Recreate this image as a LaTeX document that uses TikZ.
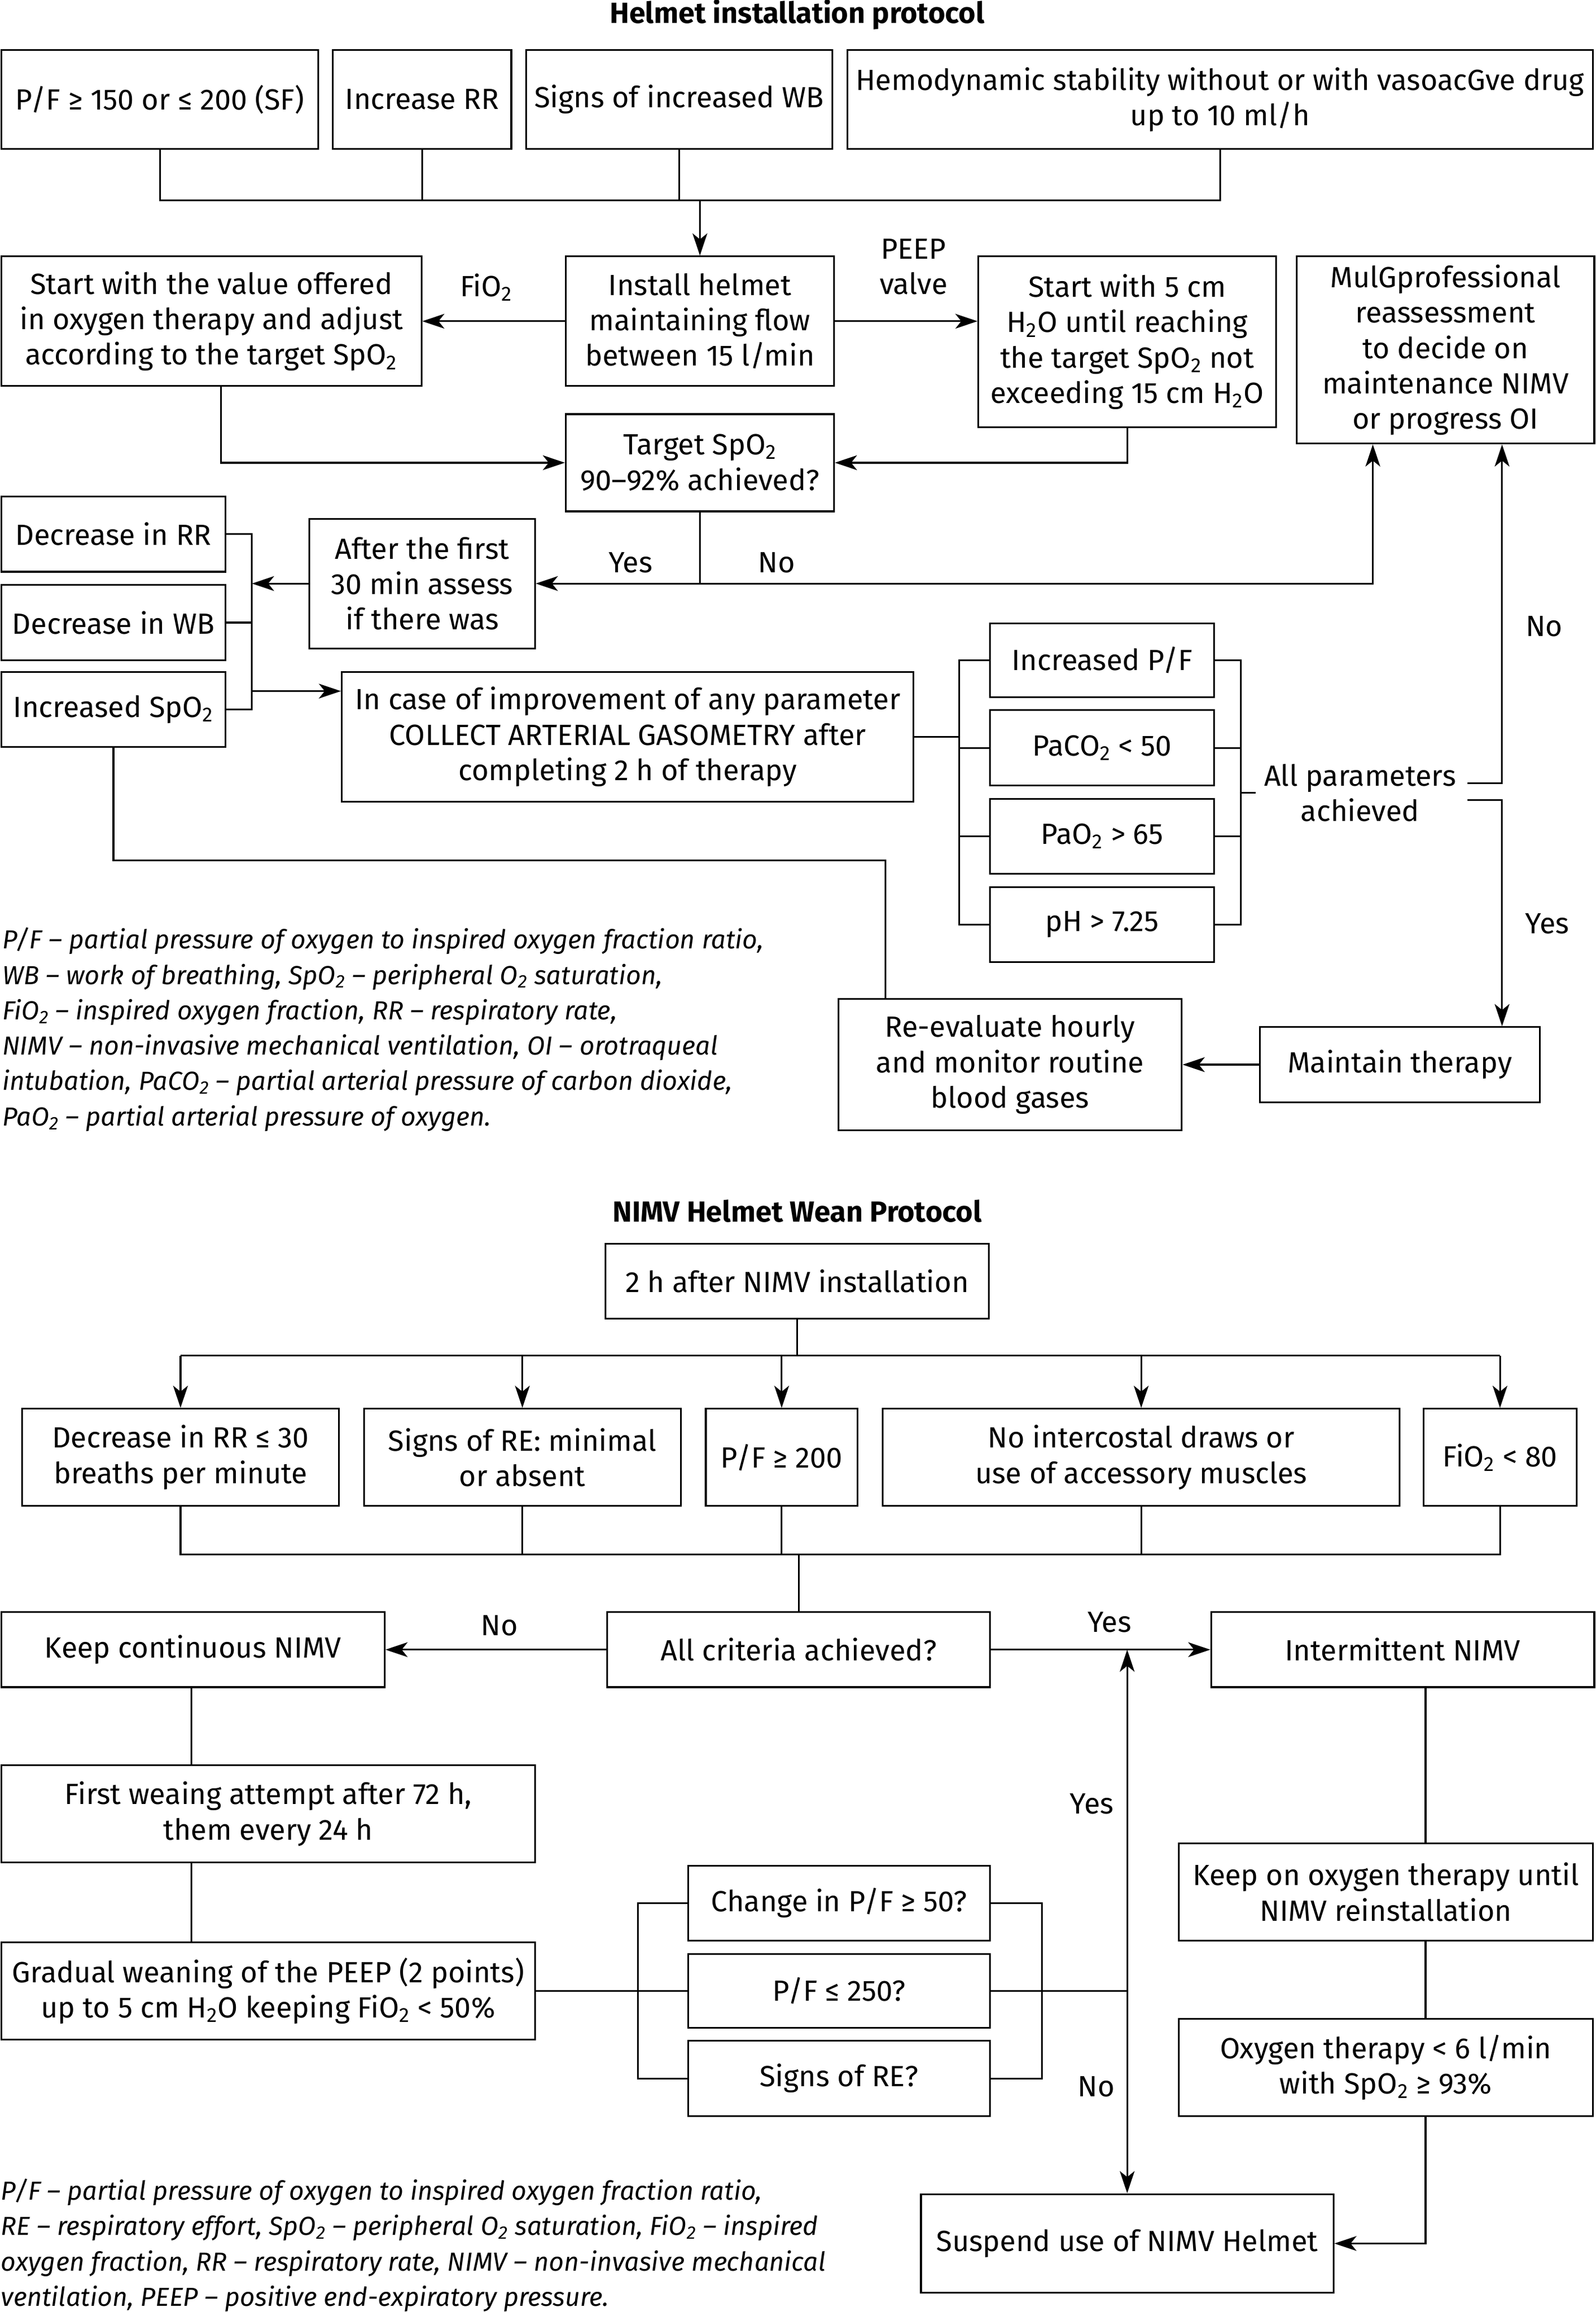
\documentclass[tikz,border=0pt]{standalone}
\usepackage{fontspec}
\setmainfont{Fira Sans}
\usetikzlibrary{arrows.meta,calc}
\tikzset{
 box/.style={draw, line width=1.2pt, align=center, inner sep=0pt, font=\fontsize{19.8}{24}\selectfont},
 lbl/.style={align=center, inner sep=0pt, font=\fontsize{19.8}{24}\selectfont},
 ttl/.style={inner sep=0pt, font=\fontsize{19.8}{24}\selectfont\bfseries},
 legend/.style={align=left, inner sep=0pt, font=\fontsize{17.7}{24}\selectfont\itshape},
 arr/.style={-{Stealth[length=15pt,width=10pt,inset=4pt]}},
}
\newcommand\bx[6]{\node[box,minimum width={(#4-#2)*1pt},minimum height={(#5-#3)*1pt}] (#1) at ({(#2+#4)/2},{(#3+#5)/2}) {#6};}
\newcommand\lo[1]{\textsubscript{#1}}
\begin{document}
\begin{tikzpicture}[x=1pt,y=-1pt,line width=1.2pt]
\useasboundingbox (0,0) rectangle (1083,1569);
% ---------- Part 1 ----------
\node[ttl] (t1) at (541,10) {Helmet installation protocol};
\bx{b1}{1}{34}{216}{101}{P/F ≥ 150 or ≤ 200 (SF)}
\bx{b2}{226}{34}{347}{101}{Increase RR}
\bx{b3}{357}{34}{565}{101}{Signs of increased WB}
\bx{b4}{575}{34}{1081}{101}{Hemodynamic stability without or with vasoacGve drug\\up to 10 ml/h}
\bx{install}{384}{174}{566}{262}{Install helmet\\maintaining flow\\between 15 l/min}
\bx{startval}{1}{174}{286}{262}{Start with the value offered\\in oxygen therapy and adjust\\according to the target SpO\lo{2}}
\bx{start5}{664}{174}{866}{290}{Start with 5 cm\\H\lo{2}O until reaching\\the target SpO\lo{2} not\\exceeding 15 cm H\lo{2}O}
\bx{multi}{880}{174}{1082}{301}{MulGprofessional\\reassessment\\to decide on\\maintenance NIMV\\or progress OI}
\bx{target}{384}{281}{566}{347}{Target SpO\lo{2}\\90–92\% achieved?}
\bx{after}{210}{352}{363}{440}{After the first\\30 min assess\\if there was}
\bx{dRR}{1}{337}{153}{388}{Decrease in RR}
\bx{dWB}{1}{397}{153}{448}{Decrease in WB}
\bx{iSpO}{1}{456}{153}{507}{Increased SpO\lo{2}}
\bx{collect}{232}{456}{620}{544}{In case of improvement of any parameter\\COLLECT ARTERIAL GASOMETRY after\\completing 2 h of therapy}
\bx{p1}{672}{423}{824}{473}{Increased P/F}
\bx{p2}{672}{482}{824}{533}{PaCO\lo{2} < 50}
\bx{p3}{672}{542}{824}{593}{PaO\lo{2} > 65}
\bx{p4}{672}{602}{824}{653}{pH > 7.25}
\bx{maintain}{855}{697}{1045}{748}{Maintain therapy}
\bx{reeval}{569}{678}{802}{767}{Re-evaluate hourly\\and monitor routine\\blood gases}
\node[lbl] (lfio) at (330,195) {FiO\lo{2}};
\node[lbl] (lpeep) at (620,181) {PEEP\\valve};
\node[lbl] (lyes1) at (428,382) {Yes};
\node[lbl] (lno1) at (527,382) {No};
\node[lbl] (lno2) at (1048,425) {No};
\node[lbl] (lyes2) at (1050,627) {Yes};
\node[lbl] (allp) at (923,538) {All parameters\\achieved};
\coordinate (bus) at (0,136);
\coordinate (lb) at (171,0);
\coordinate (yA) at (0,469);
\coordinate (xS) at (150,0);
\coordinate (xM) at (931.7,0);
\coordinate (lb2) at (651,0);
\coordinate (rb2) at (842,0);
\coordinate (ap1) at (996,531.5);
\coordinate (ap2) at (996,543);
\coordinate (xN) at (1019.4,0);
\coordinate (yB) at (0,584);
\coordinate (xR) at (601,0);
\draw (b1.south) -- (b1.south |- bus) -- (b4.south |- bus) -- (b4.south);
\draw (b2.south) -- (b2.south |- bus);
\draw (b3.south) -- (b3.south |- bus);
\draw[arr] (install.north |- bus) -- (install.north);
\draw[arr] (install.west) -- (startval.east);
\draw[arr] (install.east) -- (install.east -| start5.west);
\draw[arr] (startval.south -| xS) |- (target.west);
\draw[arr] (start5.south) |- (target.east);
\draw[arr] (target.south) |- (after.east);
\draw[arr] (target.south |- after.east) -| (multi.south -| xM);
\draw (dRR.east) -- (dRR.east -| lb) -- (iSpO.east -| lb) -- (iSpO.east);
\draw (dWB.east) -- (dWB.east -| lb);
\draw[arr] (after.west) -- (after.west -| lb);
\draw[arr] (lb |- yA) -- (collect.west |- yA);
\draw (collect.east) -- (collect.east -| lb2);
\draw (p1.west) -- (p1.west -| lb2) -- (p4.west -| lb2) -- (p4.west);
\draw (p2.west) -- (p2.west -| lb2);
\draw (p3.west) -- (p3.west -| lb2);
\draw (p1.east) -- (p1.east -| rb2) -- (p4.east -| rb2) -- (p4.east);
\draw (p2.east) -- (p2.east -| rb2);
\draw (p3.east) -- (p3.east -| rb2);
\draw (rb2 |- allp) -- ++(10,0);
\draw[arr] (ap1) -- (ap1 -| xN) -- (multi.south -| xN);
\draw[arr] (ap2) -- (ap2 -| xN) -- (maintain.north -| xN);
\draw[arr] (maintain.west) -- (maintain.west -| reeval.east);
\draw (iSpO.south) -- (iSpO.south |- yB) -- (xR |- yB) -- (reeval.north -| xR);
\node[legend, anchor=north west] (leg1) at (1,629) {P/F – partial pressure of oxygen to inspired oxygen fraction ratio,\\
WB – work of breathing, SpO\lo{2} – peripheral O\lo{2} saturation,\\
FiO\lo{2} – inspired oxygen fraction, RR – respiratory rate,\\
NIMV – non-invasive mechanical ventilation, OI – orotraqueal\\
intubation, PaCO\lo{2} – partial arterial pressure of carbon dioxide,\\
PaO\lo{2} – partial arterial pressure of oxygen.};
% ---------- Part 2 ----------
\node[ttl] (t2) at (541,822) {NIMV Helmet Wean Protocol};
\bx{h2}{411}{844}{671}{895}{2 h after NIMV installation}
\bx{c1}{15}{956}{230}{1022}{Decrease in RR ≤ 30\\breaths per minute}
\bx{c2}{247}{956}{462}{1022}{Signs of RE: minimal\\or absent}
\bx{c3}{479}{956}{582}{1022}{P/F ≥ 200}
\bx{c4}{599}{956}{950}{1022}{No intercostal draws or\\use of accessory muscles}
\bx{c5}{966}{956}{1070}{1022}{FiO\lo{2} < 80}
\bx{allc}{412}{1094}{672}{1145}{All criteria achieved?}
\bx{keepc}{1}{1094}{261}{1145}{Keep continuous NIMV}
\bx{interm}{822}{1094}{1082}{1145}{Intermittent NIMV}
\bx{first}{1}{1198}{363}{1264}{First weaing attempt after 72 h,\\them every 24 h}
\bx{grad}{1}{1318}{363}{1384}{Gradual weaning of the PEEP (2 points)\\up to 5 cm H\lo{2}O keeping FiO\lo{2} < 50\%}
\bx{q1}{467}{1266}{672}{1317}{Change in P/F ≥ 50?}
\bx{q2}{467}{1326}{672}{1376}{P/F ≤ 250?}
\bx{q3}{467}{1385}{672}{1436}{Signs of RE?}
\bx{keepox}{800}{1251}{1081}{1317}{Keep on oxygen therapy until\\NIMV reinstallation}
\bx{oxy}{800}{1370}{1081}{1436}{Oxygen therapy < 6 l/min\\with SpO\lo{2} ≥ 93\%}
\bx{susp}{625}{1489}{905}{1556}{Suspend use of NIMV Helmet}
\node[lbl] (lno3) at (339,1103) {No};
\node[lbl] (lyes3) at (753,1101) {Yes};
\node[lbl] (lyes4) at (741,1224) {Yes};
\node[lbl] (lno4) at (744,1416) {No};
\coordinate (bus1) at (0,920);
\coordinate (bus2) at (0,1055);
\coordinate (xK) at (130,0);
\coordinate (lb3) at (433,0);
\coordinate (rb3) at (707,0);
\coordinate (j) at (765,1351);
\coordinate (xI) at (967.5,0);
\draw (h2.south) -- (h2.south |- bus1);
\draw (c1.north |- bus1) -- (c5.north |- bus1);
\foreach \c in {c1,c2,c3,c4,c5} \draw[arr] (\c.north |- bus1) -- (\c.north);
\draw (c1.south) -- (c1.south |- bus2) -- (c5.south |- bus2) -- (c5.south);
\foreach \c in {c2,c3,c4} \draw (\c.south) -- (\c.south |- bus2);
\draw (allc.north |- bus2) -- (allc.north);
\draw[arr] (allc.west) -- (keepc.east);
\draw[arr] (allc.east) -- (interm.west);
\draw (keepc.south -| xK) -- (first.north -| xK);
\draw (first.south -| xK) -- (grad.north -| xK);
\draw (grad.east) -- (q2.west);
\draw (q1.west) -- (q1.west -| lb3) -- (q3.west -| lb3) -- (q3.west);
\draw (q1.east) -- (q1.east -| rb3) -- (q3.east -| rb3) -- (q3.east);
\draw (q2.east) -- (j);
\draw[arr] (j) -- (allc.east -| j);
\draw[arr] (j) -- (susp.north -| j);
\draw (interm.south -| xI) -- (keepox.north -| xI);
\draw (keepox.south -| xI) -- (oxy.north -| xI);
\draw[arr] (oxy.south -| xI) |- (susp.east);
\node[legend, anchor=north west] (leg2) at (0,1478) {P/F – partial pressure of oxygen to inspired oxygen fraction ratio,\\
RE – respiratory effort, SpO\lo{2} – peripheral O\lo{2} saturation, FiO\lo{2} – inspired\\
oxygen fraction, RR – respiratory rate, NIMV – non-invasive mechanical\\
ventilation, PEEP – positive end-expiratory pressure.};
\end{tikzpicture}
\end{document}
